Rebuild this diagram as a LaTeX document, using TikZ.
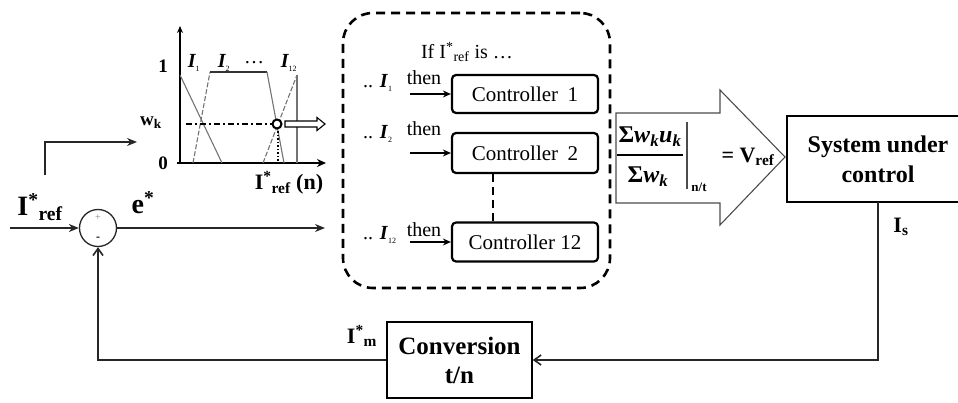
\documentclass[tikz,border=0pt]{standalone}
\usepackage{fontspec}
\setmainfont{Liberation Serif}
\usetikzlibrary{arrows.meta}
\begin{document}
\begin{tikzpicture}[x=1pt,y=-1pt,
  conn/.style={line width=1.4pt,draw=black!85,-{Stealth[length=10pt,width=8pt]}},
  fbconn/.style={line width=1.4pt,draw=black!85,-{Straight Barb[length=7pt,width=10pt,line width=1.6pt]}},
  ctrlbox/.style={draw,line width=2.2pt,rounded corners=4pt,minimum width=146pt,minimum height=38pt,inner sep=0pt,font=\rmfamily\fontsize{21}{24}\selectfont},
  plainbox/.style={draw,line width=1.5pt,inner sep=0pt},
  bigb/.style={inner sep=0pt,font=\rmfamily\fontsize{28}{32}\selectfont\bfseries},
  midb/.style={inner sep=0pt,font=\rmfamily\fontsize{22}{26}\selectfont\bfseries},
  smallb/.style={inner sep=0pt,font=\rmfamily\fontsize{19}{21}\selectfont\bfseries},
  txt/.style={inner sep=0pt,font=\rmfamily\fontsize{20}{24}\selectfont},
  mfl/.style={inner sep=0pt,font=\rmfamily\fontsize{20}{24}\selectfont\bfseries\itshape},
  thinln/.style={line width=1.1pt,draw=black!55},
]
\useasboundingbox (0,0) rectangle (958,403);

% ---- summing junction and input ----
\node (sum) [circle,draw=black!85,line width=1.3pt,minimum size=37pt,inner sep=0pt] at (98,228) {};
\node (plus) [inner sep=0pt,font=\fontsize{10}{12}\selectfont,text=black!50] at (98,218) {+};
\node (minus) [inner sep=0pt,font=\fontsize{12}{12}\selectfont\bfseries] at (98,239) {-};
\coordinate (in0) at (10,228);
\draw[conn] (in0) -- (sum.west);
\coordinate (e1) at (325,228);
\draw[conn] (sum.east) -- (e1);
\node (iref) [bigb] at (40,207) {I\textsuperscript{*}\textsubscript{ref}};
\node (estar) [bigb] at (143,203) {e\textsuperscript{*}};

% ---- upper branch arrow ----
\coordinate (u0) at (45,175);
\coordinate (u1) at (137,142);
\draw[conn] (u0) |- (u1);

% ---- membership plot ----
\coordinate (o) at (180,163);
\coordinate (ytop) at (180,26);
\coordinate (xend) at (326,163);
\draw[line width=1.6pt,-{Stealth[length=7pt,width=6pt]}] (o) -- (ytop);
\draw[line width=2.6pt,-{Stealth[length=9pt,width=8pt]}] (177,163) -- (xend);
\draw[thinln] (180,75) -- (222,163);
\draw[thinln,dashed,dash pattern=on 5pt off 2pt] (193,163) -- (210,72);
\draw[line width=2pt,black!80] (210,72) -- (267,72);
\draw[thinln] (267,72) -- (284,163);
\draw[thinln,dashed,dash pattern=on 5pt off 2pt] (263,163) -- (297,75);
\draw[thinln] (297,75) -- (297,163);
\draw[line width=1.8pt,dash pattern=on 6pt off 3pt on 2pt off 3pt] (186,124) -- (272,124);
\draw[line width=1.5pt,dotted] (278,128) -- (278,162);
\node (pt) [circle,draw,line width=2pt,fill=white,minimum size=9pt,inner sep=0pt] at (277,124) {};
\draw[line width=1.1pt,fill=white] (285,121) -- (317,121) -- (317,117.5) -- (325,124) -- (317,130.5) -- (317,127) -- (285,127) -- cycle;
\node (one) [smallb] at (163,66) {1};
\node (zero) [smallb] at (163,163) {0};
\node (wk) [smallb] at (151,123) {w\textsubscript{k}};
\node (l1) [mfl] at (194,63) {I\textsubscript{\fontsize{8}{8}\selectfont\upshape\mdseries 1}};
\node (l2) [mfl] at (224,63) {I\textsubscript{\fontsize{8}{8}\selectfont\upshape\mdseries 2}};
\node (ldots) [txt] at (254,63) {…};
\node (l12) [mfl] at (289,63) {I\textsubscript{\fontsize{8}{8}\selectfont\upshape\mdseries 12}};
\node (xlab) [midb] at (289,183) {I\textsuperscript{*}\textsubscript{ref} (n)};

% ---- rule base (dashed box) ----
\node (rules) [draw,line width=2.6pt,dash pattern=on 9pt off 6pt,rounded corners=30pt,minimum width=267pt,minimum height=275pt,inner sep=0pt] at (476.5,150.5) {};
\node (ifref) [txt] at (467,52) {If I\textsuperscript{*}\textsubscript{ref} is …};
\node (c1) [ctrlbox] at (525,94) {Controller\hspace{0.45em}1};
\node (c2) [ctrlbox,minimum height=40pt] at (525,153) {Controller\hspace{0.45em}2};
\node (c12) [ctrlbox,minimum height=39pt] at (525,242) {Controller 12};
\draw[line width=2.4pt,dash pattern=on 8pt off 5pt] (c2.south -| 493,0) -- (c12.north -| 493,0);
\foreach \n/\y/\ty/\s in {1/94/78/1, 2/153/129/2, 12/242/230/12}{
  \coordinate (a\n) at (410,\y);
  \draw[line width=2pt,-{Stealth[length=8pt,width=7pt]}] (a\n) -- (c\n.west |- a\n);
  \node (dd\n) [txt,anchor=west] at (363,\ty+5) {.. \textbf{\textit{I}}\textsubscript{\fontsize{8}{8}\selectfont\s}};
  \node (th\n) [txt] at (424,\ty) {then};
}

% ---- defuzzification arrow ----
\draw[line width=1.1pt,draw=black!70] (616,113) -- (720,113) -- (720,90) -- (785,157) -- (720,225) -- (720,203) -- (616,203) -- cycle;
\node (num) [inner sep=0pt,font=\rmfamily\fontsize{24}{26}\selectfont\bfseries] at (650,137) {Σ\textit{w}\textsubscript{\textit{k}}\textit{u}\textsubscript{\textit{k}}};
\node (den) [inner sep=0pt,font=\rmfamily\fontsize{24}{26}\selectfont\bfseries] at (648,177) {Σ\textit{w}\textsubscript{\textit{k}}};
\draw[line width=1.4pt] (617,155) -- (683,155);
\draw[line width=1.1pt,draw=black!70] (687,122) -- (687,189);
\node (nt) [inner sep=0pt,font=\rmfamily\fontsize{13}{14}\selectfont\bfseries] at (699,187) {n/t};
\node (vref) [midb] at (748,157) {= V\textsubscript{ref}};

% ---- system under control ----
\node (sys) [inner sep=0pt,minimum width=182pt,minimum height=86pt,align=center,font=\rmfamily\fontsize{24}{30}\selectfont\bfseries] at (878,159) {System under\\control};
\draw[line width=1.5pt] (sys.north east) -- (sys.north west) -- (sys.south west) -- (sys.south east);
\node (is) [midb] at (901,227) {I\textsubscript{s}};

% ---- conversion ----
\node (conv) [plainbox,minimum width=145pt,minimum height=76pt,align=center,font=\rmfamily\fontsize{25}{29}\selectfont\bfseries] at (459.5,360) {Conversion\\t/n};
\node (im) [midb] at (362,336) {I\textsuperscript{*}\textsubscript{m}};
\draw[fbconn] (sys.south) |- (conv.east);
\draw[fbconn] (conv.west) -| (sum.south);
\end{tikzpicture}
\end{document}
